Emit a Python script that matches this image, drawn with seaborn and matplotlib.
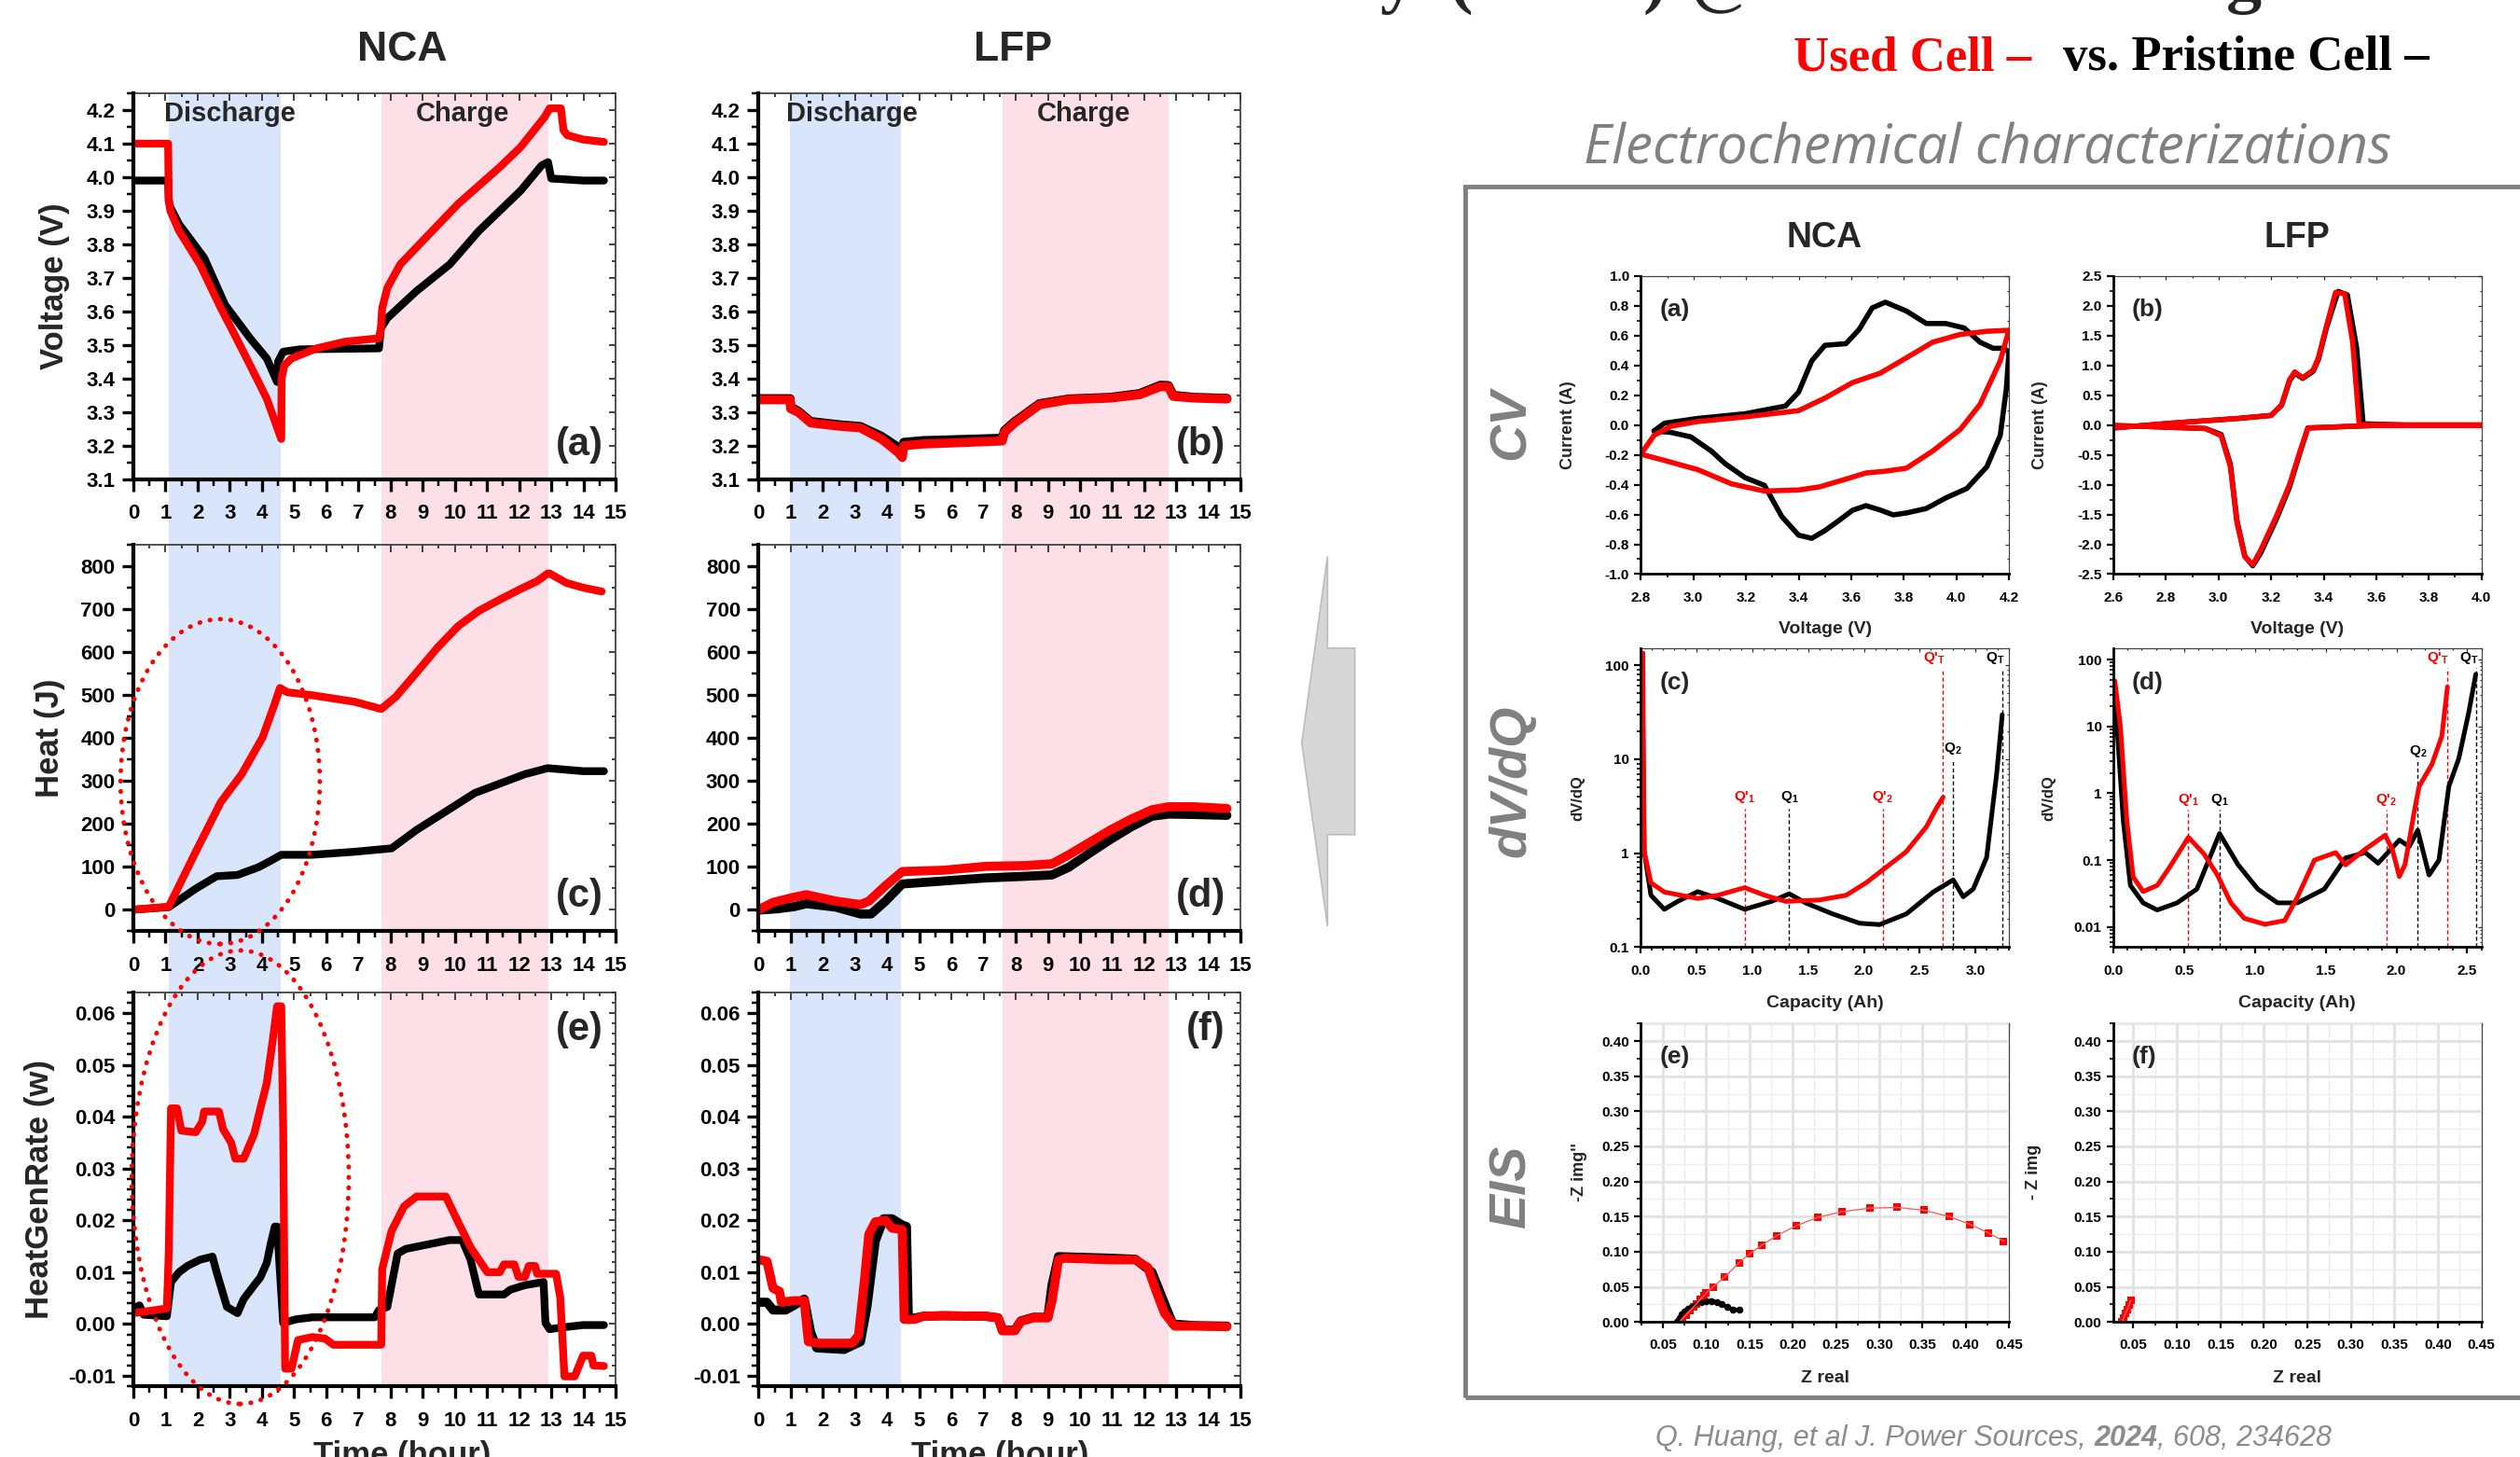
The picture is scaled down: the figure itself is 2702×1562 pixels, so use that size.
import matplotlib
matplotlib.use('Agg')
import matplotlib.pyplot as plt
import seaborn as sns
from matplotlib.ticker import MultipleLocator, FormatStrFormatter, FuncFormatter, NullFormatter
from matplotlib.patches import Ellipse, Polygon, Rectangle

# ---------------- left block: cycling test, time in hours ----------------
# voltage (V)
t_vnca_k = [0, 1.08, 1.1, 1.15, 1.42, 2.2, 2.85, 3.63, 4.15, 4.47, 4.5, 4.66, 5.18, 7.64, 7.7, 7.9, 8.8, 9.84, 10.75, 12.05, 12.7, 12.9, 13.0, 14.0, 14.64]
vnca_k = [3.99, 3.99, 3.93, 3.91, 3.86, 3.76, 3.62, 3.52, 3.46, 3.39, 3.45, 3.48, 3.487, 3.49, 3.55, 3.58, 3.66, 3.74, 3.84, 3.96, 4.035, 4.045, 3.996, 3.99, 3.99]
t_vnca_r = [0, 1.08, 1.1, 1.15, 1.42, 2.07, 2.72, 3.1, 3.63, 4.15, 4.6, 4.61, 4.7, 4.92, 5.7, 6.6, 7.64, 7.7, 7.74, 7.9, 8.3, 8.8, 10.1, 11.4, 12.05, 12.8, 12.95, 13.3, 13.38, 13.5, 14.0, 14.64]
vnca_r = [4.10, 4.10, 3.93, 3.90, 3.84, 3.74, 3.61, 3.54, 3.44, 3.34, 3.22, 3.40, 3.44, 3.46, 3.49, 3.51, 3.52, 3.55, 3.61, 3.67, 3.74, 3.79, 3.92, 4.03, 4.09, 4.18, 4.205, 4.205, 4.14, 4.125, 4.112, 4.105]
t_vlfp = [0, 0.98, 1.0, 1.23, 1.62, 2.53, 3.17, 3.82, 4.34, 4.47, 4.52, 5.12, 7.58, 7.65, 7.97, 8.74, 9.65, 10.95, 11.85, 12.5, 12.75, 12.9, 13.54, 14.57]
vlfp_k = [3.34, 3.34, 3.315, 3.303, 3.272, 3.262, 3.257, 3.228, 3.195, 3.19, 3.21, 3.215, 3.222, 3.245, 3.272, 3.325, 3.339, 3.344, 3.355, 3.38, 3.379, 3.35, 3.344, 3.341]
vlfp_r = [3.337, 3.337, 3.31, 3.30, 3.268, 3.258, 3.253, 3.22, 3.18, 3.165, 3.20, 3.205, 3.214, 3.24, 3.268, 3.322, 3.337, 3.342, 3.352, 3.376, 3.376, 3.347, 3.342, 3.339]

# heat (J)
t_qnca_k = [0, 1.1, 1.94, 2.59, 3.24, 3.89, 4.27, 4.6, 5.57, 6.87, 8.03, 8.81, 9.72, 10.62, 11.4, 12.18, 12.89, 13.99, 14.64]
qnca_k = [0, 6, 49, 78, 81, 99, 114, 128, 128, 135, 143, 186, 229, 272, 294, 316, 330, 323, 323]
t_qnca_r = [0, 1.1, 1.94, 2.72, 3.37, 4.02, 4.4, 4.56, 4.79, 5.57, 6.87, 7.71, 8.16, 8.81, 9.46, 10.1, 10.75, 11.4, 12.05, 12.56, 12.89, 12.95, 13.47, 13.99, 14.57]
qnca_r = [0, 7, 135, 251, 316, 402, 481, 517, 507, 500, 485, 468, 496, 553, 611, 661, 697, 723, 748, 766, 784, 784, 762, 751, 742]
t_qlfp_k = [0, 0.58, 1.1, 1.49, 2.4, 3.17, 3.5, 3.95, 4.47, 5.76, 7.06, 8.35, 9.13, 9.65, 10.3, 10.95, 11.59, 12.24, 12.76, 13.54, 14.57]
qlfp_k = [-1, 2, 7, 14, 6, -10, -10, 20, 60, 67, 74, 78, 81, 99, 132, 164, 193, 218, 223, 222, 220]
t_qlfp_r = [0, 0.45, 1.1, 1.49, 2.4, 3.17, 3.43, 3.95, 4.47, 5.76, 7.06, 8.35, 9.13, 9.65, 10.3, 10.95, 11.59, 12.24, 12.76, 13.54, 14.57]
qlfp_r = [0, 17, 29, 35, 20, 12, 20, 56, 89, 92, 101, 103, 107, 128, 157, 186, 211, 233, 240, 240, 236]

# heat generation rate (W)
t_pnca_k = [0, 0.19, 0.32, 1.04, 1.17, 1.42, 1.68, 2.07, 2.46, 2.59, 2.91, 3.24, 3.43, 3.76, 3.95, 4.15, 4.27, 4.4, 4.47, 4.66, 5.05, 5.57, 7.51, 7.64, 7.9, 8.22, 8.48, 9.2, 9.84, 10.23, 10.49, 10.75, 11.53, 11.72, 12.18, 12.76, 12.82, 12.95, 13.28, 13.99, 14.64]
pnca_k = [0.003, 0.0036, 0.0018, 0.0015, 0.0081, 0.010, 0.0112, 0.0124, 0.013, 0.010, 0.0033, 0.0021, 0.0048, 0.0075, 0.009, 0.0118, 0.0154, 0.0188, 0.0188, 0.0002, 0.0009, 0.0013, 0.0013, 0.0027, 0.0033, 0.0136, 0.0145, 0.0154, 0.0162, 0.0162, 0.0124, 0.0057, 0.0057, 0.0066, 0.0075, 0.0081, 0.0002, -0.001, -0.0007, -0.0002, -0.0002]
t_pnca_r = [0, 1.04, 1.1, 1.17, 1.36, 1.49, 1.94, 2.14, 2.2, 2.66, 2.79, 3.04, 3.17, 3.43, 3.76, 3.95, 4.15, 4.34, 4.47, 4.6, 4.66, 4.72, 4.92, 5.12, 5.57, 5.96, 6.22, 7.71, 7.74, 8.03, 8.42, 8.81, 9.72, 10.1, 10.49, 10.88, 11.01, 11.4, 11.53, 11.85, 11.98, 12.18, 12.3, 12.5, 12.56, 13.15, 13.28, 13.41, 13.73, 13.99, 14.25, 14.31, 14.64]
pnca_r = [0.0021, 0.003, 0.0136, 0.0416, 0.0416, 0.0373, 0.037, 0.039, 0.041, 0.041, 0.0376, 0.035, 0.0319, 0.0319, 0.0367, 0.0416, 0.0465, 0.055, 0.0613, 0.0613, 0.0377, -0.0086, -0.0086, -0.0031, -0.0025, -0.0028, -0.004, -0.004, 0.0106, 0.0179, 0.0227, 0.0246, 0.0246, 0.0197, 0.0148, 0.0112, 0.010, 0.010, 0.0115, 0.0115, 0.0091, 0.0091, 0.0112, 0.0112, 0.0097, 0.0097, 0.0051, -0.0101, -0.0101, -0.0061, -0.0061, -0.008, -0.0081]
t_plfp_k = [0, 0.26, 0.45, 0.84, 1.1, 1.42, 1.62, 1.81, 2.66, 3.17, 3.37, 3.63, 3.89, 4.15, 4.47, 4.6, 4.66, 5.12, 5.76, 7.06, 7.45, 7.6, 7.97, 8.16, 8.55, 9.0, 9.13, 9.33, 10.95, 11.72, 12.24, 12.69, 12.89, 13.54, 14.57]
plfp_k = [0.0042, 0.0042, 0.0027, 0.0027, 0.0036, 0.0048, -0.0016, -0.0046, -0.0049, -0.0034, 0.0033, 0.016, 0.0203, 0.0203, 0.0191, 0.0188, 0.0009, 0.0015, 0.0016, 0.0015, 0.0012, -0.0012, -0.0012, 0.0006, 0.0013, 0.0013, 0.0075, 0.013, 0.0127, 0.0125, 0.010, 0.003, 0.0, -0.0003, -0.0004]
t_plfp_r = [0, 0.26, 0.45, 0.65, 0.71, 1.1, 1.42, 1.55, 1.88, 2.91, 3.11, 3.3, 3.43, 3.63, 3.95, 4.15, 4.47, 4.53, 4.86, 5.12, 5.76, 7.06, 7.45, 7.58, 7.97, 8.16, 8.55, 9.0, 9.13, 9.33, 9.52, 10.95, 11.72, 12.11, 12.37, 12.63, 12.95, 13.54, 14.57]
plfp_r = [0.0124, 0.0121, 0.0069, 0.0063, 0.0042, 0.0045, 0.0045, -0.0034, -0.0037, -0.0037, -0.0022, 0.0088, 0.0173, 0.0197, 0.020, 0.0185, 0.0182, 0.0009, 0.0009, 0.0015, 0.0016, 0.0015, 0.0012, -0.0013, -0.0013, 0.0005, 0.0012, 0.0012, 0.0045, 0.0124, 0.0127, 0.0124, 0.0124, 0.0109, 0.0063, 0.0021, -0.0004, -0.0004, -0.0005]

# discharge / charge windows (hours)
nca_dis, nca_chg = (1.1, 4.58), (7.71, 12.9)
lfp_dis, lfp_chg = (0.97, 4.44), (7.6, 12.77)

# ---------------- right block: electrochemical characterizations ----------------
cv_nca_v_k = [2.85, 2.89, 3.017, 3.196, 3.35, 3.40, 3.45, 3.50, 3.58, 3.63, 3.68, 3.73, 3.81, 3.886, 3.96, 4.03, 4.09, 4.14, 4.18, 4.2, 4.19, 4.167, 4.116, 4.04, 3.96, 3.886, 3.81, 3.76, 3.71, 3.656, 3.605, 3.55, 3.50, 3.45, 3.40, 3.336, 3.27, 3.196, 3.12, 3.068, 2.99, 2.915, 2.85]
cv_nca_i_k = [-0.04, 0.012, 0.044, 0.075, 0.127, 0.22, 0.43, 0.534, 0.545, 0.64, 0.785, 0.823, 0.764, 0.68, 0.68, 0.65, 0.555, 0.514, 0.514, 0.49, 0.24, -0.07, -0.28, -0.426, -0.489, -0.56, -0.59, -0.603, -0.57, -0.541, -0.572, -0.645, -0.708, -0.76, -0.739, -0.614, -0.405, -0.353, -0.259, -0.175, -0.08, -0.05, -0.04]
cv_nca_v_r = [2.8, 2.85, 2.915, 3.017, 3.196, 3.40, 3.5, 3.605, 3.71, 3.81, 3.91, 4.015, 4.116, 4.2, 4.167, 4.09, 4.015, 3.91, 3.81, 3.73, 3.656, 3.58, 3.48, 3.40, 3.27, 3.145, 3.017, 2.89, 2.8]
cv_nca_i_r = [-0.196, -0.07, -0.008, 0.023, 0.054, 0.096, 0.18, 0.284, 0.347, 0.45, 0.555, 0.607, 0.628, 0.635, 0.43, 0.138, -0.03, -0.175, -0.29, -0.31, -0.322, -0.363, -0.415, -0.436, -0.443, -0.395, -0.3, -0.238, -0.196]
cv_lfp_v_r = [2.6, 2.82, 3.076, 3.2, 3.24, 3.27, 3.29, 3.32, 3.36, 3.38, 3.41, 3.445, 3.48, 3.51, 3.535, 3.71, 4.0, 4.0, 3.585, 3.34, 3.31, 3.27, 3.22, 3.16, 3.13, 3.1, 3.07, 3.045, 3.01, 2.95, 2.69, 2.6]
cv_lfp_i_r = [-0.05, 0.03, 0.11, 0.16, 0.34, 0.76, 0.89, 0.79, 0.92, 1.13, 1.65, 2.22, 2.2, 1.39, 0.005, 0.0, 0.0, -0.01, -0.01, -0.05, -0.44, -1.0, -1.53, -2.1, -2.34, -2.21, -1.64, -0.70, -0.18, -0.06, -0.02, -0.01]
cv_lfp_v_k = [2.6, 2.82, 3.076, 3.2, 3.24, 3.27, 3.29, 3.32, 3.36, 3.38, 3.41, 3.455, 3.49, 3.525, 3.55, 3.71, 4.0, 4.0, 3.585, 3.34, 3.31, 3.27, 3.22, 3.16, 3.13, 3.1, 3.07, 3.045, 3.01, 2.95, 2.69, 2.6]
cv_lfp_i_k = [-0.05, 0.03, 0.11, 0.16, 0.33, 0.74, 0.87, 0.78, 0.90, 1.10, 1.62, 2.24, 2.18, 1.30, 0.02, 0.0, 0.0, -0.01, -0.01, -0.05, -0.46, -1.04, -1.58, -2.15, -2.36, -2.2, -1.6, -0.66, -0.16, -0.06, -0.02, -0.01]

dq_nca_q_r = [0.018, 0.022, 0.03, 0.09, 0.21, 0.51, 0.69, 0.93, 1.11, 1.3, 1.6, 1.84, 2.02, 2.2, 2.38, 2.56, 2.65, 2.71]
dq_nca_d_r = [135, 20, 1.04, 0.485, 0.386, 0.33, 0.357, 0.43, 0.357, 0.307, 0.318, 0.357, 0.485, 0.71, 1.04, 1.91, 3.02, 3.94]
dq_nca_q_k = [0.018, 0.022, 0.03, 0.09, 0.21, 0.33, 0.51, 0.69, 0.93, 1.17, 1.33, 1.48, 1.72, 1.96, 2.14, 2.38, 2.62, 2.8, 2.89, 2.98, 3.1, 3.19, 3.24]
dq_nca_d_k = [22, 5, 1.04, 0.357, 0.253, 0.307, 0.39, 0.33, 0.253, 0.307, 0.37, 0.295, 0.226, 0.18, 0.174, 0.226, 0.386, 0.52, 0.344, 0.416, 0.9, 7.0, 29.7]
dq_lfp_q_r = [0.01, 0.05, 0.095, 0.14, 0.21, 0.31, 0.4, 0.53, 0.64, 0.735, 0.83, 0.925, 1.07, 1.21, 1.3, 1.42, 1.57, 1.64, 1.78, 1.92, 1.97, 2.02, 2.06, 2.13, 2.16, 2.25, 2.32, 2.36]
dq_lfp_d_r = [48, 9.8, 0.39, 0.056, 0.034, 0.042, 0.08, 0.22, 0.124, 0.06, 0.023, 0.0135, 0.011, 0.0125, 0.028, 0.1, 0.13, 0.085, 0.146, 0.236, 0.146, 0.057, 0.086, 0.6, 1.27, 2.7, 7.1, 39]
dq_lfp_q_k = [0.01, 0.07, 0.12, 0.21, 0.31, 0.45, 0.59, 0.75, 0.88, 1.02, 1.16, 1.3, 1.49, 1.64, 1.78, 1.87, 2.02, 2.09, 2.15, 2.23, 2.3, 2.37, 2.44, 2.51, 2.56]
dq_lfp_d_k = [31, 0.39, 0.042, 0.023, 0.018, 0.023, 0.037, 0.25, 0.086, 0.037, 0.023, 0.023, 0.037, 0.108, 0.13, 0.09, 0.2, 0.16, 0.28, 0.06, 0.1, 1.27, 3.3, 16, 60]

# peak markers in the dV/dQ panels
q_names = [r"Q'$_1$", r"Q$_1$", r"Q'$_2$", r"Q$_2$", r"Q'$_T$", r"Q$_T$"]
q_colors = ['red', 'black', 'red', 'black', 'red', 'black']
q_nca_pos = [0.93, 1.33, 2.17, 2.80, 2.71, 3.24]
q_nca_top = [3.0, 3.0, 3.0, 9.8, 90, 90]
q_nca_lab = [0.93, 1.33, 2.17, 2.80, 2.63, 3.18]
q_lfp_pos = [0.53, 0.75, 1.93, 2.15, 2.36, 2.56]
q_lfp_top = [0.57, 0.57, 0.57, 2.98, 74, 74]
q_lfp_lab = [0.53, 0.75, 1.93, 2.15, 2.29, 2.51]

eis_nca_re_r = [0.069, 0.073, 0.077, 0.081, 0.085, 0.089, 0.093, 0.097, 0.1, 0.108, 0.121, 0.138, 0.15, 0.164, 0.182, 0.204, 0.229, 0.257, 0.289, 0.321, 0.352, 0.381, 0.405, 0.426, 0.444]
eis_nca_im_r = [0.0, 0.005, 0.010, 0.016, 0.021, 0.026, 0.032, 0.037, 0.041, 0.050, 0.0635, 0.0844, 0.0968, 0.109, 0.123, 0.137, 0.149, 0.157, 0.162, 0.163, 0.159, 0.150, 0.139, 0.127, 0.115]
eis_nca_re_k = [0.066, 0.069, 0.072, 0.075, 0.079, 0.083, 0.088, 0.094, 0.1, 0.106, 0.112, 0.118, 0.124, 0.131, 0.138]
eis_nca_im_k = [0.0, 0.006, 0.011, 0.015, 0.019, 0.022, 0.025, 0.028, 0.030, 0.030, 0.028, 0.025, 0.021, 0.018, 0.017]
eis_lfp_re_r = [0.037, 0.039, 0.041, 0.043, 0.045, 0.047]
eis_lfp_im_r = [0.0, 0.006, 0.012, 0.018, 0.024, 0.031]

BLUE, PINK, GREY = '#d8e5fb', '#fde0e7', '#808080'

sns.set_theme(style='white')
plt.rcParams['font.family'] = ['Liberation Sans', 'DejaVu Sans']
plt.rcParams['font.weight'] = 'bold'
plt.rcParams['axes.labelweight'] = 'bold'
plt.rcParams['axes.unicode_minus'] = False
plt.rcParams['mathtext.fontset'] = 'custom'
plt.rcParams['mathtext.rm'] = 'Liberation Sans:bold'
plt.rcParams['mathtext.it'] = 'Liberation Sans:bold'
plt.rcParams['mathtext.bf'] = 'Liberation Sans:bold'

fig = plt.figure(figsize=(27.02, 15.62), dpi=100)
W, H = 1568, 906   # layout worked out on a 1568 x 906 grid


def rect(l, t, r, b):
    return [l / W, 1 - b / H, (r - l) / W, (b - t) / H]


def style(ax, xmaj, xmin, ymaj=None, ymin=None, big=True, logy=False,
          xfmt='%d', yfmt='%.1f', size=16, xpad=10, ypad=5):
    lw = 3.0 if big else 2.0
    thin = 1.3 if big else 0.9
    L = 9 if big else 5
    ax.set_facecolor('none')
    for s in ('left', 'bottom'):
        ax.spines[s].set_linewidth(lw)
        ax.spines[s].set_color('black')
    for s in ('top', 'right'):
        ax.spines[s].set_visible(False)
    ax.xaxis.set_major_locator(MultipleLocator(xmaj))
    ax.xaxis.set_minor_locator(MultipleLocator(xmin))
    ax.xaxis.set_major_formatter(FormatStrFormatter(xfmt))
    if logy:
        ax.yaxis.set_major_formatter(FuncFormatter(lambda v, p: f'{v:g}'))
        ax.yaxis.set_minor_formatter(NullFormatter())
    else:
        ax.yaxis.set_major_locator(MultipleLocator(ymaj))
        ax.yaxis.set_minor_locator(MultipleLocator(ymin))
        ax.yaxis.set_major_formatter(FormatStrFormatter(yfmt))
    ax.tick_params(which='both', direction='out', bottom=True, left=True,
                   top=False, right=False, colors='black')
    ax.tick_params(which='major', length=L, width=lw * 0.8, labelsize=size)
    ax.tick_params(which='minor', length=L * 0.55, width=lw * 0.6)
    ax.tick_params(axis='x', which='major', pad=xpad)
    ax.tick_params(axis='y', which='major', pad=ypad)
    # thin top / right frame with inward ticks
    sx = ax.secondary_xaxis('top')
    sx.xaxis.set_major_locator(MultipleLocator(xmaj))
    sx.xaxis.set_minor_locator(MultipleLocator(xmin))
    sx.xaxis.set_major_formatter(NullFormatter())
    sx.xaxis.set_minor_formatter(NullFormatter())
    sx.tick_params(which='both', direction='in', width=thin, colors='#333333')
    sx.tick_params(which='major', length=L * 0.6)
    sx.tick_params(which='minor', length=L * 0.35)
    sx.spines['top'].set_linewidth(thin)
    sx.spines['top'].set_color('#444444')
    sy = ax.secondary_yaxis('right')
    if not logy:
        sy.yaxis.set_major_locator(MultipleLocator(ymaj))
        sy.yaxis.set_minor_locator(MultipleLocator(ymin))
    sy.yaxis.set_major_formatter(NullFormatter())
    sy.yaxis.set_minor_formatter(NullFormatter())
    sy.tick_params(which='both', direction='in', width=thin, colors='#333333')
    sy.tick_params(which='major', length=L * 0.6)
    sy.tick_params(which='minor', length=L * 0.35)
    sy.spines['right'].set_linewidth(thin)
    sy.spines['right'].set_color('#444444')


def curve(ax, x, y, color, lw):
    sns.lineplot(x=x, y=y, ax=ax, color=color, lw=lw, estimator=None, sort=False,
                 solid_capstyle='round', solid_joinstyle='round')


# ---------- left block ----------
LX = [(83, 383), (472, 772)]
LY = [(58, 298), (339, 579), (617, 862)]

for (l, r), (dis, chg) in zip(LX, [(nca_dis, nca_chg), (lfp_dis, lfp_chg)]):
    bg = fig.add_axes(rect(l, LY[0][0], r, LY[2][1]))
    bg.set_xlim(0, 15)
    bg.axvspan(*dis, color=BLUE, lw=0)
    bg.axvspan(*chg, color=PINK, lw=0)
    bg.axis('off')

left = [
    [(t_vnca_k, vnca_k, t_vnca_r, vnca_r), (t_vlfp, vlfp_k, t_vlfp, vlfp_r)],
    [(t_qnca_k, qnca_k, t_qnca_r, qnca_r), (t_qlfp_k, qlfp_k, t_qlfp_r, qlfp_r)],
    [(t_pnca_k, pnca_k, t_pnca_r, pnca_r), (t_plfp_k, plfp_k, t_plfp_r, plfp_r)],
]
row_cfg = [
    dict(ylim=(3.1, 4.25), ymaj=0.1, ymin=0.05, yfmt='%.1f', label='Voltage (V)', lx=-0.164),
    dict(ylim=(-50, 850), ymaj=100, ymin=50, yfmt='%d', label='Heat (J)', lx=-0.173),
    dict(ylim=(-0.012, 0.064), ymaj=0.01, ymin=0.002, yfmt='%.2f', label='HeatGenRate (w)', lx=-0.195),
]
letters = [['(a)', '(b)'], ['(c)', '(d)'], ['(e)', '(f)']]

for i, (t, b) in enumerate(LY):
    cfg = row_cfg[i]
    for j, (l, r) in enumerate(LX):
        ax = fig.add_axes(rect(l, t, r, b))
        tk, yk, tr, yr = left[i][j]
        lw = 6 if j == 0 else 7
        curve(ax, tk, yk, 'black', lw)
        curve(ax, tr, yr, 'red', lw)
        ax.set_xlim(0, 15)
        ax.set_ylim(*cfg['ylim'])
        style(ax, 1, 0.5, cfg['ymaj'], cfg['ymin'], yfmt=cfg['yfmt'])
        ax.set_xlabel('')
        ax.set_ylabel('')
        if j == 0:
            ax.set_ylabel(cfg['label'], fontsize=25)
            ax.yaxis.set_label_coords(cfg['lx'], 0.5)
            ax.yaxis.label.set_va('center')
        ly = 0.905 if i == 2 else 0.09
        ax.text(0.975 if j == 0 else 0.968, ly, letters[i][j], transform=ax.transAxes,
                ha='right', va='center', fontsize=30)
        if i == 0:
            ax.text(3.0 if j == 0 else 2.9, 4.19, 'Discharge', ha='center', va='center', fontsize=21)
            ax.text(10.25 if j == 0 else 10.1, 4.19, 'Charge', ha='center', va='center', fontsize=21)

fig.text(250 / W, 1 - 30.8 / H, 'NCA', ha='center', va='center', fontsize=32)
fig.text(630 / W, 1 - 30.8 / H, 'LFP', ha='center', va='center', fontsize=32)
for cx in (250, 622):
    fig.text(cx / W, 1 - 1544 / 1562, 'Time (hour)', ha='center', va='top', fontsize=25)

# highlight ellipses
for cx, cy, ew, eh in [(137, 486, 124, 202), (149.5, 732, 135, 282)]:
    e = Ellipse((cx / W, 1 - cy / H), ew / W, eh / H, transform=fig.transFigure, fill=False,
                ec='red', lw=3.5, ls=(0, (0.1, 2.2)))
    e.set_capstyle('round')
    fig.add_artist(e)

# grey arrow pointing left
arrow = [(810, 462), (826, 346), (826, 403), (843, 403), (843, 519), (826, 519), (826, 576)]
fig.add_artist(Polygon([(x / W, 1 - y / H) for x, y in arrow], closed=True,
                       transform=fig.transFigure, fc='#d6d6d6', ec='#bcbcbc', lw=1.2))

# ---------- right block ----------
fig.add_artist(Rectangle((911.7 / W, 1 - 868.6 / H), 1.0, (868.6 - 116) / H, transform=fig.transFigure,
                         fill=False, ec=GREY, lw=3.5, clip_on=False))
fig.text(2131 / 2702, 1 - 175 / 1562, 'Electrochemical characterizations', ha='center', va='baseline',
         fontsize=42, color=GREY, style='italic', fontweight='normal', family=['Open Sans', 'DejaVu Sans'])
fig.text(1923 / 2702, 1 - 75 / 1562, 'Used Cell \u2013', color='red', fontsize=38,
         family=['Liberation Serif'], va='baseline')
fig.text(2212 / 2702, 1 - 75 / 1562, 'vs. Pristine Cell \u2013', color='black', fontsize=38,
         family=['Liberation Serif'], va='baseline')
# descenders of the cut-off slide title
for ch, x0 in [('y', 1479), ('(', 1554), (')', 1762), ('@', 1812), ('g', 2387)]:
    fig.text(x0 / 2702, 1.0, ch, fontsize=55, family=['Liberation Serif'], va='baseline')

fig.text(1135 / W, 1 - 148 / H, 'NCA', ha='center', va='center', fontsize=27)
fig.text(1429 / W, 1 - 148 / H, 'LFP', ha='center', va='center', fontsize=27)
for txt, y in [('CV', 0.709), ('dV/dQ', 0.4638), ('EIS', 0.1856)]:
    fig.text(0.600, y, txt, rotation=90, ha='center', va='center', fontsize=40,
             color=GREY, style='italic')

RX = [(1021, 1250), (1315, 1544)]
RY = [(171.5, 357), (403, 589), (636, 822)]
rs = dict(big=False, size=11, xpad=8, ypad=4)

# CV
ax = fig.add_axes(rect(RX[0][0], RY[0][0], RX[0][1], RY[0][1]))
curve(ax, cv_nca_v_k, cv_nca_i_k, 'black', 4.0)
curve(ax, cv_nca_v_r, cv_nca_i_r, 'red', 4.0)
ax.set_xlim(2.8, 4.2); ax.set_ylim(-1.0, 1.0)
style(ax, 0.2, 0.1, 0.2, 0.1, xfmt='%.1f', yfmt='%.1f', **rs)
ax.set_xlabel('Voltage (V)', fontsize=14); ax.set_ylabel('Current (A)', fontsize=13)
ax.xaxis.set_label_coords(0.5, -0.183); ax.yaxis.set_label_coords(-0.197, 0.5)
ax.text(0.05, 0.885, '(a)', transform=ax.transAxes, ha='left', va='center', fontsize=19)
cv_axes = [ax]

ax = fig.add_axes(rect(RX[1][0], RY[0][0], RX[1][1], RY[0][1]))
curve(ax, cv_lfp_v_k, cv_lfp_i_k, 'black', 4.0)
curve(ax, cv_lfp_v_r, cv_lfp_i_r, 'red', 4.0)
ax.set_xlim(2.6, 4.0); ax.set_ylim(-2.5, 2.5)
style(ax, 0.2, 0.1, 0.5, 0.25, xfmt='%.1f', yfmt='%.1f', **rs)
ax.set_xlabel('Voltage (V)', fontsize=14); ax.set_ylabel('Current (A)', fontsize=13)
ax.xaxis.set_label_coords(0.5, -0.183); ax.yaxis.set_label_coords(-0.2, 0.5)
ax.text(0.05, 0.885, '(b)', transform=ax.transAxes, ha='left', va='center', fontsize=19)
cv_axes.append(ax)

# dV/dQ
dq_sets = [
    (dq_nca_q_k, dq_nca_d_k, dq_nca_q_r, dq_nca_d_r, (0, 3.3), (0.1, 152), q_nca_pos, q_nca_top, q_nca_lab, '(c)', -0.17),
    (dq_lfp_q_k, dq_lfp_d_k, dq_lfp_q_r, dq_lfp_d_r, (0, 2.6), (0.005, 148), q_lfp_pos, q_lfp_top, q_lfp_lab, '(d)', -0.175),
]
dq_axes = []
for j, (qk, dk, qr, dr, xl, yl, qp, qt, qlab, let, lx) in enumerate(dq_sets):
    ax = fig.add_axes(rect(RX[j][0], RY[1][0], RX[j][1], RY[1][1]))
    ax.set_yscale('log')
    ax.vlines(qp, yl[0], qt, colors=q_colors, lw=1.0, linestyles=(0, (3, 2)))
    for name, x, top, c in zip(q_names, qlab, qt, q_colors):
        ax.text(x, top * 1.08, name, color=c, ha='center', va='bottom', fontsize=11)
    curve(ax, qk, dk, 'black', 3.6)
    curve(ax, qr, dr, 'red', 3.6)
    ax.set_xlim(*xl); ax.set_ylim(*yl)
    style(ax, 0.5, 0.1, logy=True, xfmt='%.1f', **rs)
    ax.set_xlabel('Capacity (Ah)', fontsize=14); ax.set_ylabel('dV/dQ', fontsize=12)
    ax.xaxis.set_label_coords(0.5, -0.188); ax.yaxis.set_label_coords(lx, 0.5)
    ax.text(0.05, 0.884, let, transform=ax.transAxes, ha='left', va='center', fontsize=19)
    dq_axes.append(ax)

# EIS
eis_sets = [
    ((eis_nca_re_k, eis_nca_im_k), (eis_nca_re_r, eis_nca_im_r), (0.0245, 0.45), '-Z img\'\'', '(e)', -0.166),
    (None, (eis_lfp_re_r, eis_lfp_im_r), (0.027, 0.45), '- Z img', '(f)', -0.218),
]
eis_axes = []
for j, (blk, red, xl, ylab, let, lx) in enumerate(eis_sets):
    ax = fig.add_axes(rect(RX[j][0], RY[2][0], RX[j][1], RY[2][1]))
    ax.set_axisbelow(True)
    if blk is not None:
        curve(ax, blk[0], blk[1], 'black', 3.0)
        sns.scatterplot(x=blk[0], y=blk[1], ax=ax, color='black', s=30, marker='o', lw=0)
    sns.lineplot(x=red[0], y=red[1], ax=ax, color='#ff6060', lw=1.0, estimator=None, sort=False)
    sns.scatterplot(x=red[0], y=red[1], ax=ax, color='red', s=34, marker='s', lw=0)
    ax.set_xlim(*xl); ax.set_ylim(0, 0.426)
    style(ax, 0.05, 0.025, 0.05, 0.025, xfmt='%.2f', yfmt='%.2f', **rs)
    ax.grid(True, which='major', color='#e2e2e2', lw=2.0)
    ax.grid(True, which='minor', color='#ececec', lw=0.9)
    ax.set_xlabel('Z real', fontsize=14); ax.set_ylabel(ylab, fontsize=13)
    ax.xaxis.set_label_coords(0.5, -0.188); ax.yaxis.set_label_coords(lx, 0.5)
    ax.text(0.05, 0.887, let, transform=ax.transAxes, ha='left', va='center', fontsize=19)
    eis_axes.append(ax)

for ax in cv_axes + dq_axes + eis_axes:
    ax.xaxis.label.set_va('center')
    ax.yaxis.label.set_va('center')

# citation line
cit = fig.text(1775 / 2702, 1 - 1557 / 1562, 'Q. Huang, et al J. Power Sources, ', color='#8c8c8c',
               fontsize=22, style='italic', fontweight='normal', va='bottom')
c2 = eis_axes[0].annotate('2024', xy=(1, 0), xycoords=cit, va='bottom', ha='left', color='#8c8c8c',
                          fontsize=22, style='italic', fontweight='bold', annotation_clip=False)
eis_axes[0].annotate(', 608, 234628', xy=(1, 0), xycoords=c2, va='bottom', ha='left', color='#8c8c8c',
                     fontsize=22, style='italic', fontweight='normal', annotation_clip=False)

fig.savefig('out.png', dpi=100)
